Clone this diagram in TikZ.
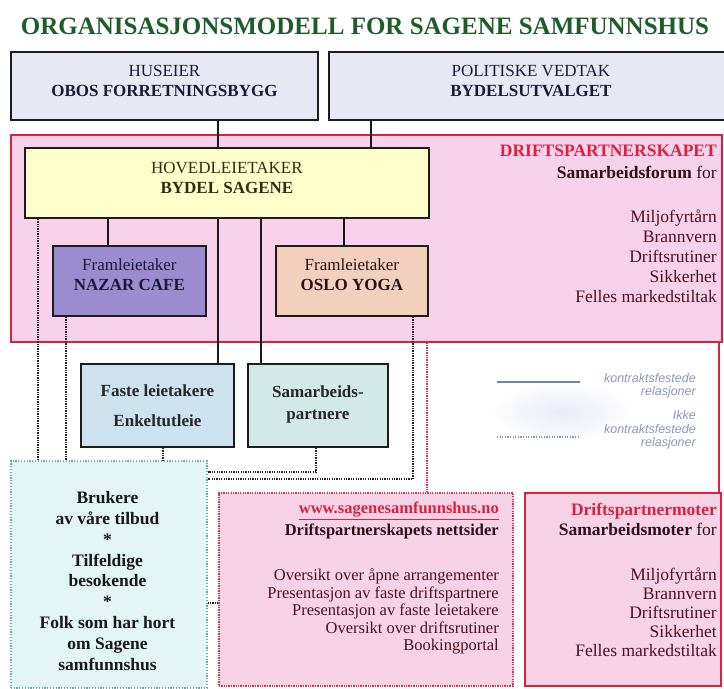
\documentclass[tikz,border=0pt]{standalone}
\usepackage{fontspec}
\setmainfont{Liberation Serif}
\newfontfamily\legendfont{Liberation Sans}
\definecolor{titlegreen}{HTML}{1F5C2C}
\definecolor{topfill}{HTML}{E6E8F3}
\definecolor{boxline}{HTML}{1C1C1C}
\definecolor{partred}{HTML}{D9223F}
\definecolor{pinkfill}{HTML}{F7D2EA}
\definecolor{yellowfill}{HTML}{FFFFCC}
\definecolor{nazarfill}{HTML}{9A8CCF}
\definecolor{oslofill}{HTML}{F3D0BB}
\definecolor{fastefill}{HTML}{CDE2EF}
\definecolor{samarbfill}{HTML}{D3E9E7}
\definecolor{brukerfill}{HTML}{E3F5F5}
\definecolor{brukerline}{HTML}{6FA8A8}
\definecolor{webfill}{HTML}{F8D2E7}
\definecolor{dotred}{HTML}{D8304F}
\definecolor{textmaroon}{HTML}{4E1222}
\definecolor{textdark}{HTML}{2B1418}
\definecolor{legendgrey}{HTML}{8C98B4}
\definecolor{legendline}{HTML}{7482A4}
\definecolor{blobcol}{HTML}{E8EAF7}
\definecolor{navytext}{HTML}{1A1A3A}
\definecolor{olivetext}{HTML}{2E2E14}
\tikzset{
  box/.style={draw=boxline, line width=1.8pt, inner sep=0pt, anchor=north west, align=center,
    font=\fontsize{17}{20}\selectfont},
  conn/.style={draw=black!90, line width=1.8pt},
  dotconn/.style={draw=black!85, line width=1.8pt, dash pattern=on 1.3pt off 1.1pt},
  pinkdot/.style={draw=dotred, line width=1.6pt, dash pattern=on 1.3pt off 1.1pt},
  redline/.style={draw=partred, line width=1.6pt},
  txt/.style={inner sep=0pt},
  legend/.style={inner sep=0pt, align=right, text=legendgrey, font=\legendfont\itshape\fontsize{12.5}{13.5}\selectfont},
}
\begin{document}
\begin{tikzpicture}[x=1pt,y=-1pt]
\useasboundingbox[fill=white] (0,0) rectangle (724,689);

% helper x positions
\coordinate (c38) at (38,0);
\coordinate (c66) at (66,0);
\coordinate (c108) at (108,0);
\coordinate (c163) at (163,0);
\coordinate (c218) at (218,0);
\coordinate (c261) at (261,0);
\coordinate (c344) at (344,0);
\coordinate (c371) at (371,0);
\coordinate (c427) at (427,0);
\coordinate (c719) at (719,0);
\coordinate (j1) at (316,472);
\coordinate (j2) at (413,479);
\coordinate (j3) at (0,603);

% title
\node[txt, text=titlegreen, font=\fontsize{25}{30}\selectfont\bfseries] (title) at (365,26)
  {ORGANISASJONSMODELL FOR SAGENE SAMFUNNSHUS};

% top boxes
\node[box, fill=topfill, text=navytext, minimum width=307, minimum height=68, text depth=10pt] (huseier) at (10,51)
  {HUSEIER\\\textbf{OBOS FORRETNINGSBYGG}};
\node[box, fill=topfill, text=navytext, minimum width=404, minimum height=68, text depth=10pt] (politisk) at (328,51)
  {POLITISKE VEDTAK\\\textbf{BYDELSUTVALGET}};

% partnership area
\node[box, draw=partred, line width=1.6pt, fill=pinkfill, minimum width=711, minimum height=207] (partner) at (10,134) {};

\node[box, fill=yellowfill, text=olivetext, minimum width=404, minimum height=70, text depth=10pt] (hoved) at (24,147)
  {HOVEDLEIETAKER\\\textbf{BYDEL SAGENE}};
\node[box, fill=nazarfill, text=navytext, minimum width=153, minimum height=70, text depth=12pt] (nazar) at (52,245)
  {Framleietaker\\\textbf{NAZAR CAFE}};
\node[box, fill=oslofill, text=textdark, minimum width=152, minimum height=70, text depth=12pt] (oslo) at (275,245)
  {Framleietaker\\\textbf{OSLO YOGA}};

\node[txt, anchor=north east, align=right, text=textmaroon, font=\fontsize{17.5}{20}\selectfont] (ptext) at (717,145)
  {\textcolor{partred}{\bfseries DRIFTSPARTNERSKAPET}\\[2pt]
   \textcolor{textdark}{\textbf{Samarbeidsforum}\ for}\\[24pt]
   Miljofyrtårn\\ Brannvern\\ Driftsrutiner\\ Sikkerhet\\ Felles markedstiltak};

% second row
\node[box, fill=fastefill, text=black!85, minimum width=153, minimum height=83, font=\fontsize{17}{22}\selectfont\bfseries] (faste) at (80,363)
  {Faste leietakere\\[8pt]Enkeltutleie};
\node[box, fill=samarbfill, text=black!85, minimum width=140, minimum height=83, font=\fontsize{17}{22}\selectfont\bfseries, text depth=6pt] (samarb) at (247,363)
  {Samarbeids-\\partnere};

% legend
\shade[inner color=blobcol, outer color=white] (562,412) ellipse (72pt and 30pt);
\coordinate (la) at (497,382);
\coordinate (lb) at (580,382);
\coordinate (lc) at (497,437);
\coordinate (ld) at (580,437);
\draw[draw=legendline, line width=1.6pt] (la) -- (lb);
\draw[draw=legendgrey, line width=1.3pt, dash pattern=on 1.2pt off 1.4pt] (lc) -- (ld);
\node[legend, anchor=east] (lt1) at (696,386) {kontraktsfestede\\relasjoner};
\node[legend, anchor=east] (lt2) at (696,430) {Ikke\\kontraktsfestede\\relasjoner};

% bottom boxes
\node[box, draw=brukerline, line width=1.5pt, dash pattern=on 1.2pt off 1.6pt, fill=brukerfill, minimum width=196, minimum height=227] (brukere) at (10,460) {};
\node[txt, align=center, text=black!90, font=\fontsize{17.5}{20.9}\selectfont\bfseries] (brutext) at (107.5,581)
  {Brukere\\av våre tilbud\\*\\Tilfeldige\\besokende\\*\\Folk som har hort\\om Sagene\\samfunnshus};

\node[box, draw=dotred, line width=1.6pt, dash pattern=on 1.3pt off 1.1pt, fill=webfill, minimum width=294, minimum height=193] (web) at (218,492) {};
\node[txt, anchor=north east, align=right, text=textmaroon, font=\fontsize{16.5}{17.5}\selectfont] (webtext) at (499,502)
  {\textcolor{partred}{\bfseries\underline{www.sagenesamfunnshus.no}}\\[4.5pt]
   \textcolor{textdark}{\bfseries Driftspartnerskapets nettsider}\\[27.5pt]
   Oversikt over åpne arrangementer\\
   Presentasjon av faste driftspartnere\\
   Presentasjon av faste leietakere\\
   Oversikt over driftsrutiner\\
   Bookingportal};

\node[box, draw=partred, line width=1.6pt, fill=webfill, minimum width=196, minimum height=193] (moter) at (524,492) {};
\node[txt, anchor=north east, align=right, text=textmaroon, font=\fontsize{17.5}{19}\selectfont] (motext) at (717,503)
  {\textcolor{partred}{\bfseries Driftspartnermoter}\\[1pt]
   \textcolor{textdark}{\textbf{Samarbeidsmoter}\ for}\\[26pt]
   Miljofyrtårn\\ Brannvern\\ Driftsrutiner\\ Sikkerhet\\ Felles markedstiltak};

% solid connectors
\draw[conn] (huseier.south -| c218) -- (hoved.north -| c218);
\draw[conn] (politisk.south -| c371) -- (hoved.north -| c371);
\draw[conn] (hoved.south -| c108) -- (nazar.north -| c108);
\draw[conn] (hoved.south -| c218) -- (faste.north -| c218);
\draw[conn] (hoved.south -| c261) -- (samarb.north -| c261);
\draw[conn] (hoved.south -| c344) -- (oslo.north -| c344);

% dotted connectors
\draw[dotconn] (hoved.south -| c38) -- (brukere.north -| c38);
\draw[dotconn] (nazar.south -| c66) -- (brukere.north -| c66);
\draw[dotconn] (faste.south -| c163) -- (brukere.north -| c163);
\draw[dotconn] (samarb.south -| j1) -- (j1) -- (brukere.east |- j1);
\draw[dotconn] (oslo.south -| j2) -- (j2) -- (brukere.east |- j2);
\draw[dotconn] (brukere.east |- j3) -- (web.west |- j3);
\draw[pinkdot] (partner.south -| c427) -- (web.north -| c427);
\draw[redline] (partner.south -| c719) -- (moter.north -| c719);
\end{tikzpicture}
\end{document}
